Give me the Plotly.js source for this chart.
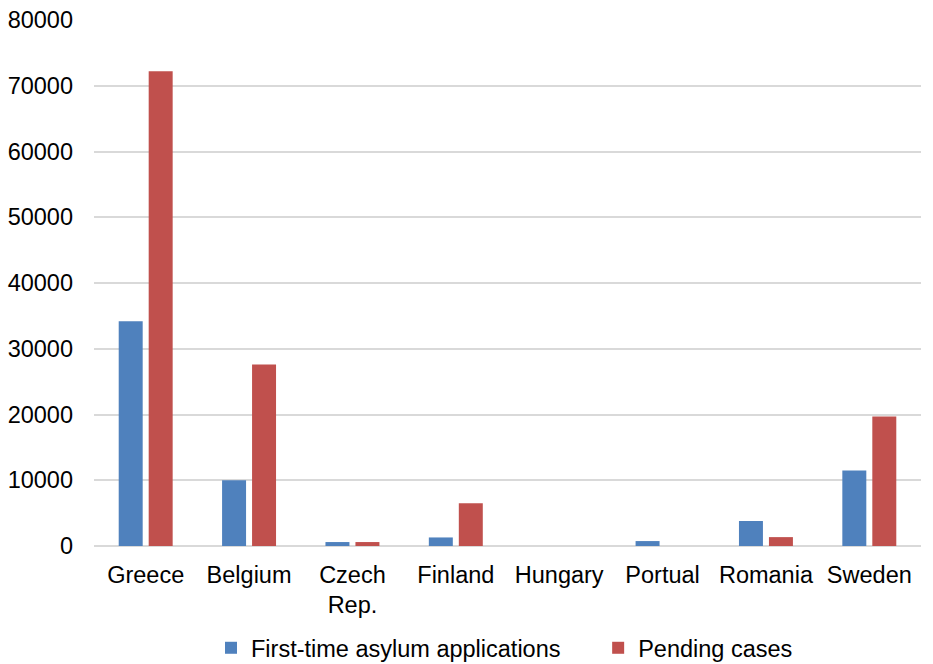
<!DOCTYPE html>
<html>
<head>
<meta charset="utf-8">
<script src="https://cdn.plot.ly/plotly-3.0.1.min.js"></script>
<style>html,body{margin:0;padding:0;background:#fff;}#chart{width:933px;height:664px;}</style>
</head>
<body>
<div id="chart"></div>
<script>
const countries = ["Greece", "Belgium", "Czech<br>Rep.", "Finland", "Hungary", "Portual", "Romania", "Sweden"];
const firstTimeApplications = [34200, 10000, 600, 1300, 0, 750, 3800, 11500];
const pendingCases = [72200, 27600, 600, 6500, 0, 0, 1350, 19700];
const yTicks = [0, 10000, 20000, 30000, 40000, 50000, 60000, 70000, 80000];
const seriesNames = ["First-time asylum applications", "Pending cases"];

const fontFam = "Liberation Sans, Arial, sans-serif";
const fs = 23.5;
const pad = "\u00a0\u00a0\u00a0\u00a0\u00a0";
const data = [
  {type: "bar", name: seriesNames[0] + pad, x: countries, y: firstTimeApplications,
   marker: {color: "#4f81bd"}},
  {type: "bar", name: seriesNames[1], x: countries, y: pendingCases,
   marker: {color: "#c0504d"}}
];
const layout = {
  width: 933, height: 664,
  margin: {l: 94, r: 12, t: 20, b: 118},
  paper_bgcolor: "#fff", plot_bgcolor: "#fff",
  font: {family: fontFam, size: fs, color: "#000"},
  barmode: "group", bargap: 0.42, bargroupgap: 0.2,
  showlegend: true,
  legend: {orientation: "h", x: 211/933, xref: "container", xanchor: "left",
           y: 16/664, yref: "container", yanchor: "middle",
           bgcolor: "rgba(0,0,0,0)",
           font: {size: fs}, traceorder: "normal"},
  xaxis: {tickfont: {size: fs}, showgrid: false, showline: false, zeroline: false,
          ticks: "", ticklabelstandoff: 12, automargin: false},
  yaxis: {range: [0, 80000], tickvals: yTicks, ticktext: yTicks.map(String),
          showgrid: true, gridcolor: "#d9d9d9", gridwidth: 2,
          zeroline: true, zerolinecolor: "#d9d9d9", zerolinewidth: 2,
          showline: false, ticks: "", ticklabelstandoff: 20, tickfont: {size: fs},
          automargin: false}
};
Plotly.newPlot("chart", data, layout, {displayModeBar: false, staticPlot: true});
</script>
</body>
</html>
